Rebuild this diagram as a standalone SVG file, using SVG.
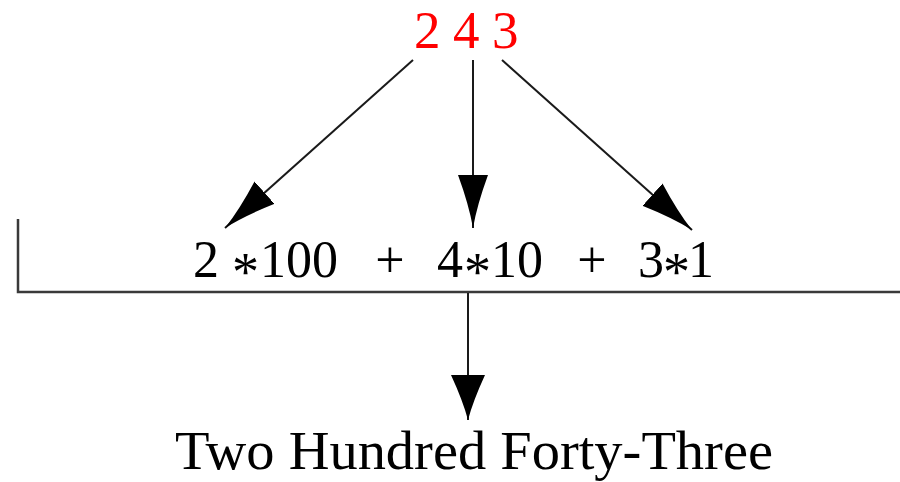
<svg xmlns="http://www.w3.org/2000/svg" width="900" height="482" viewBox="0 0 900 482">
<style>
.t{font-family:"Liberation Serif","Times New Roman","DejaVu Serif",serif;fill:#000}
.red{fill:#ff0000}
.ast{font-size:54px}
.ln{stroke:#1a1a1a;stroke-width:2;fill:none}
.br{stroke:#3a3a3a;stroke-width:2.5;fill:none}
</style>
<defs>
<marker id="ah" markerUnits="userSpaceOnUse" viewBox="0 0 54 30" markerWidth="54" markerHeight="30" refX="53" refY="15" orient="auto">
<path d="M0,0 Q30,11 53,15 Q30,19 0,30 Z" fill="#000"/>
</marker>
<marker id="ah2" markerUnits="userSpaceOnUse" viewBox="0 0 46 34" markerWidth="46" markerHeight="34" refX="45" refY="17" orient="auto">
<path d="M0,0 Q26,12 45,17 Q26,22 0,34 Z" fill="#000"/>
</marker>
</defs>
<g id="number">
<text class="t red" x="414" y="48" font-size="53">2</text>
<text class="t red" x="453" y="48" font-size="53">4</text>
<text class="t red" x="492" y="48" font-size="53">3</text>
</g>
<g id="expansion">
<text class="t" y="277" font-size="52"><tspan x="193">2</tspan><tspan class="ast" x="232" dy="13">*</tspan><tspan x="260" dy="-13">100</tspan></text>
<text class="t" x="390" y="277" font-size="52" text-anchor="middle">+</text>
<text class="t" y="277" font-size="52"><tspan x="437">4</tspan><tspan class="ast" x="464" dy="13">*</tspan><tspan x="491" dy="-13">10</tspan></text>
<text class="t" x="592" y="277" font-size="52" text-anchor="middle">+</text>
<text class="t" y="277" font-size="52"><tspan x="638">3</tspan><tspan class="ast" x="663" dy="13">*</tspan><tspan x="688" dy="-13">1</tspan></text>
</g>
<g id="bracket">
<path class="br" d="M18,219 L18,292 L900,292"/>
</g>
<g id="result">
<text class="t" x="175" y="469" font-size="55" textLength="598" lengthAdjust="spacingAndGlyphs">Two Hundred Forty-Three</text>
</g>
<g id="connectors">
<line class="ln" x1="413" y1="60" x2="225" y2="228" marker-end="url(#ah)"/>
<line class="ln" x1="473" y1="60" x2="473" y2="228" marker-end="url(#ah)"/>
<line class="ln" x1="502" y1="60" x2="692" y2="230" marker-end="url(#ah)"/>
<line class="ln" x1="468" y1="293" x2="468" y2="420" marker-end="url(#ah2)"/>
</g>
</svg>
